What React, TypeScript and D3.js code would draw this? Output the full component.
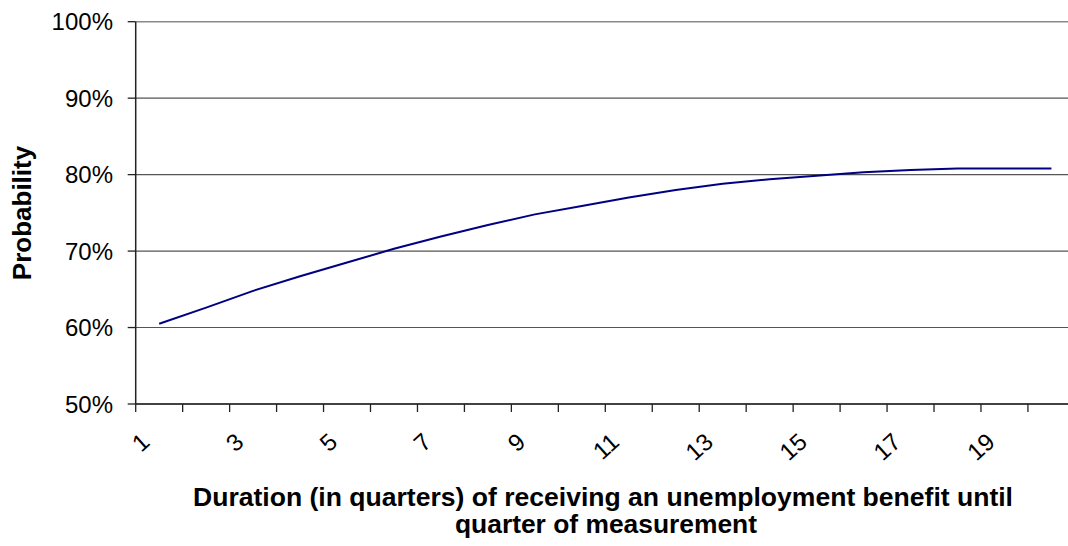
import React from "react";
import * as d3 from "d3";

const categories: number[] = [1, 2, 3, 4, 5, 6, 7, 8, 9, 10, 11, 12, 13, 14, 15, 16, 17, 18, 19, 20];
const probability: number[] = [60.5, 62.6, 64.8, 66.7, 68.5, 70.3, 71.9, 73.4, 74.8, 75.9, 77.0, 78.0, 78.8, 79.4, 79.85, 80.3, 80.6, 80.8, 80.8, 80.8];
const yTicks: number[] = [50, 60, 70, 80, 90, 100];
const xLabelCats: number[] = [1, 3, 5, 7, 9, 11, 13, 15, 17, 19];
const yTitle = "Probability";
const xTitleLines: string[] = [
  "Duration (in quarters) of receiving an unemployment benefit until",
  "quarter of measurement",
];

const W = 1068;
const H = 546;
const left = 135.7;
const step = 46.96;
const top = 21.7;
const bottom = 404;
const FONT = "'Liberation Sans', Arial, Helvetica, sans-serif";

export default function App() {
  const x = d3
    .scaleBand<number>()
    .domain(categories)
    .range([left, left + categories.length * step])
    .padding(0);
  const y = d3.scaleLinear().domain([50, 100]).range([bottom, top]);
  const cx = (c: number) => (x(c) as number) + x.bandwidth() / 2;

  const line = d3
    .line<number>()
    .x((_, i) => cx(categories[i]))
    .y((d) => y(d));

  const tickBounds = d3.range(categories.length + 1).map((i) => left + i * x.step());

  return (
    <svg
      width={W}
      height={H}
      style={{ position: "absolute", left: 0, top: 0, background: "#fff" }}
      fontFamily={FONT}
    >
      <rect x={0} y={0} width={W} height={H} fill="#fff" />
      {yTicks.map((t) => (
        <line
          key={"g" + t}
          x1={left}
          x2={left + categories.length * step}
          y1={y(t)}
          y2={y(t)}
          stroke={t === 100 ? "#8a8a8a" : "#555"}
          strokeWidth={t === 100 ? 1.6 : 1.1}
        />
      ))}
      <line x1={left} x2={left} y1={top} y2={bottom} stroke="#222" strokeWidth={1.5} />
      {yTicks.map((t) => (
        <g key={"yt" + t}>
          <line x1={left - 8} x2={left} y1={y(t)} y2={y(t)} stroke="#222" strokeWidth={1.3} />
          <text x={113} y={y(t) + 8.6} textAnchor="end" fontSize={24} fill="#000">
            {t + "%"}
          </text>
        </g>
      ))}
      <line
        x1={left}
        x2={left + categories.length * step}
        y1={bottom}
        y2={bottom}
        stroke="#222"
        strokeWidth={1.5}
      />
      {tickBounds.map((tx, i) => (
        <line key={"xt" + i} x1={tx} x2={tx} y1={bottom} y2={bottom + 8} stroke="#222" strokeWidth={1.3} />
      ))}
      {xLabelCats.map((c) => (
        <text
          key={"xl" + c}
          transform={`translate(${cx(c) - 8},${444}) rotate(-42)`}
          textAnchor="end"
          fontSize={24}
          fill="#000"
        >
          {c}
        </text>
      ))}
      <path d={line(probability) || ""} fill="none" stroke="#000080" strokeWidth={2} />
      <text
        transform={`translate(31,213) rotate(-90)`}
        textAnchor="middle"
        fontSize={26}
        fontWeight="bold"
        fill="#000"
      >
        {yTitle}
      </text>
      <text
        x={603}
        y={506}
        textAnchor="middle"
        fontSize={25}
        fontWeight="bold"
        fill="#000"
        textLength={820}
        lengthAdjust="spacingAndGlyphs"
      >
        {xTitleLines[0]}
      </text>
      <text
        x={606}
        y={533}
        textAnchor="middle"
        fontSize={25}
        fontWeight="bold"
        fill="#000"
        textLength={302}
        lengthAdjust="spacingAndGlyphs"
      >
        {xTitleLines[1]}
      </text>
    </svg>
  );
}
